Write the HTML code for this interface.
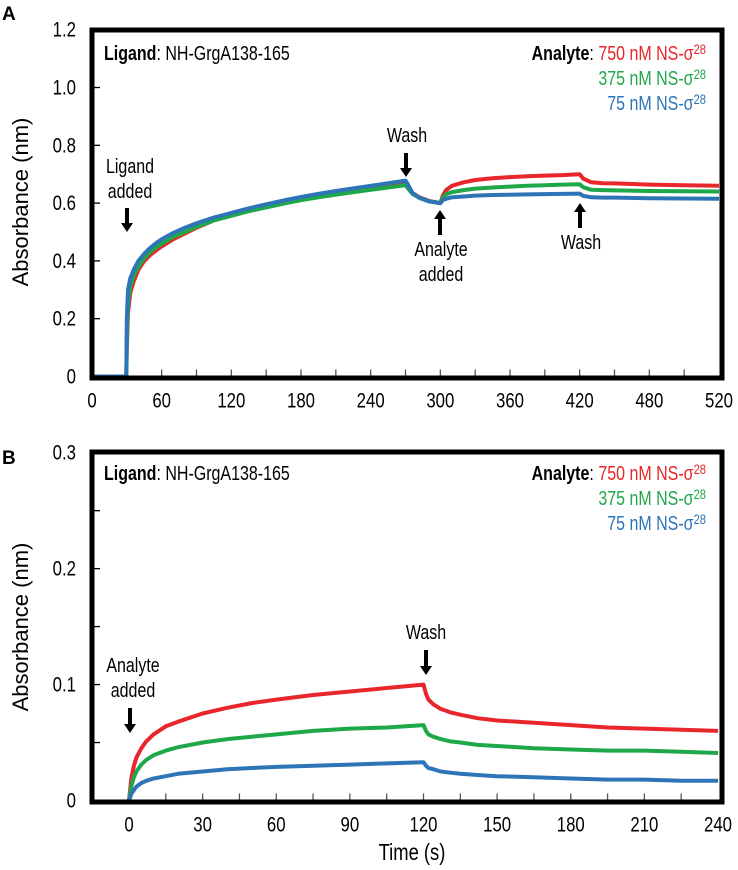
<!DOCTYPE html>
<html><head><meta charset="utf-8">
<style>
body{margin:0;background:#fff;}
svg text{font-family:"Liberation Sans",sans-serif;}
</style></head>
<body>
<svg id="chart" width="738" height="865" xmlns="http://www.w3.org/2000/svg"></svg>
<script>
// Panel A data
const aTickLabels = ["0","60","120","180","240","300","360","420","480","520"];
const aYTicks = [0,0.2,0.4,0.6,0.8,1.0,1.2];
const aTimes = [0,29.5,30,31,33,36,40,45,50,55,60,70,80,90,105,120,135,150,165,180,195,210,225,240,255,270,272,276,282,290,300,302,305,310,320,330,345,360,375,390,405,420,423,430,440,450,480,510,540];
const aRed =   [0,0,0.1,0.22,0.29,0.33,0.37,0.40,0.42,0.436,0.45,0.475,0.495,0.515,0.54,0.56,0.577,0.592,0.605,0.617,0.628,0.638,0.647,0.656,0.664,0.672,0.66,0.635,0.62,0.608,0.6,0.625,0.645,0.66,0.672,0.68,0.686,0.69,0.693,0.695,0.697,0.7,0.685,0.672,0.669,0.668,0.664,0.662,0.66];
const aGreen = [0,0,0.12,0.25,0.31,0.35,0.38,0.41,0.43,0.446,0.46,0.483,0.50,0.518,0.54,0.556,0.572,0.585,0.598,0.61,0.62,0.629,0.638,0.646,0.654,0.662,0.652,0.632,0.618,0.607,0.6,0.618,0.63,0.638,0.645,0.65,0.654,0.657,0.66,0.662,0.664,0.665,0.655,0.646,0.645,0.644,0.642,0.641,0.64];
const aBlue =  [0,0,0.2,0.3,0.34,0.37,0.4,0.425,0.445,0.461,0.475,0.497,0.515,0.53,0.55,0.566,0.582,0.596,0.609,0.621,0.632,0.642,0.651,0.66,0.669,0.678,0.665,0.635,0.618,0.606,0.6,0.61,0.615,0.62,0.623,0.626,0.628,0.629,0.63,0.631,0.632,0.633,0.625,0.62,0.619,0.619,0.617,0.616,0.615];
// Panel B data
const bTickLabels = ["0","30","60","90","120","150","180","210","240"];
const bYTicks = [0,0.1,0.2,0.3];
const bTimes = [0,1,2,3,5,7,10,15,20,30,40,50,60,75,90,105,120,121,122,124,127,131,135,142,150,165,180,195,210,225,240];
const bRed =   [0,0.02,0.03,0.037,0.045,0.051,0.057,0.064,0.068,0.075,0.08,0.084,0.087,0.091,0.094,0.097,0.1,0.092,0.087,0.083,0.079,0.076,0.074,0.071,0.069,0.067,0.065,0.063,0.062,0.061,0.06];
const bGreen = [0,0.013,0.02,0.025,0.031,0.035,0.039,0.043,0.046,0.05,0.053,0.055,0.057,0.06,0.062,0.063,0.065,0.06,0.057,0.055,0.053,0.051,0.05,0.048,0.047,0.045,0.044,0.043,0.043,0.042,0.041];
const bBlue =  [0,0.006,0.009,0.012,0.015,0.017,0.019,0.021,0.023,0.025,0.027,0.028,0.029,0.03,0.031,0.032,0.033,0.03,0.028,0.027,0.025,0.024,0.023,0.022,0.021,0.02,0.019,0.018,0.018,0.017,0.017];

const NS="http://www.w3.org/2000/svg";
const svg=document.getElementById('chart');
const SX=0.8;
function el(tag,attrs,parent){const e=document.createElementNS(NS,tag);for(const k in attrs)e.setAttribute(k,attrs[k]);(parent||svg).appendChild(e);return e;}
function txt(s,x,y,attrs,parent){const t=el('text',Object.assign({x:0,y:0,transform:`translate(${x},${y}) scale(${SX},1)`},attrs),parent);t.textContent=s;return t;}
const RED="#e8262c",GREEN="#1fa84a",BLUE="#2e75b8";

function panel(o){
  const g=el('g',{});
  
  
  const xs=v=>o.x0+(v-o.xmin)/(o.xmax-o.xmin)*(o.x1-o.x0);
  const ys=v=>o.y0-(v-o.ymin)/(o.ymax-o.ymin)*(o.y0-o.y1);
  for(let v=o.xmin+o.minorX; v<o.xmax; v+=o.minorX){
    const l=el('line',{x1:xs(v),x2:xs(v),y1:o.y0,y2:o.y0-7,stroke:'#555','stroke-width':1.3},g);
    
  }
  for(let v=o.ymin+o.minorY; v<o.ymax-1e-9; v+=o.minorY){
    const l=el('line',{x1:o.fl,x2:o.fl+8,y1:ys(v),y2:ys(v),stroke:'#000','stroke-width':1.3},g);
    
  }
  o.xLabels.forEach((s,i)=>{
    const v=o.xmin+i*o.labelStep;
    const t=txt(s,xs(v),o.y0+31,{'font-size':21,'text-anchor':'middle',fill:'#000'},g);
    
  });
  o.yTicks.forEach(v=>{
    const t=txt(v===0?'0':v.toFixed(1),76,ys(v)+7,{'font-size':21,'text-anchor':'end',fill:'#000'},g);
    
  });
  [[o.red,RED,'series-750nm'],[o.green,GREEN,'series-375nm'],[o.blue,BLUE,'series-75nm']].forEach(([arr,c,n])=>{
    const d=arr.map((v,i)=>(i?'L':'M')+xs(o.t[i]).toFixed(1)+','+ys(v).toFixed(1)).join('');
    const p=el('path',{d:d,fill:'none',stroke:c,'stroke-width':4,'stroke-linejoin':'round'},g);
    
  });
  const r=el('rect',{x:o.fl,y:o.ft,width:o.fr-o.fl,height:o.fb-o.ft,fill:'none',stroke:'#000','stroke-width':5},g);
  
  const yt=el('text',{x:0,y:0,'font-size':22,'text-anchor':'middle',transform:`translate(28,${o.ytitleY}) rotate(-90)`},g);
  yt.textContent='Absorbance (nm)';
  
  const lg=txt('',104,o.legY,{'font-size':20},g);
  lg.innerHTML='<tspan font-weight="bold">Ligand</tspan>: NH-GrgA138-165';
  
  const l1=txt('',706,o.legY,{'font-size':20,'text-anchor':'end'},g);
  l1.innerHTML='<tspan font-weight="bold">Analyte</tspan>: <tspan fill="'+RED+'">750 nM NS-σ<tspan font-size="14" dy="-6">28</tspan></tspan>';
  
  const l2=txt('',706,o.legY+25,{'font-size':20,'text-anchor':'end',fill:GREEN},g);
  l2.innerHTML='375 nM NS-σ<tspan font-size="14" dy="-6">28</tspan>';
  
  const l3=txt('',706,o.legY+50,{'font-size':20,'text-anchor':'end',fill:BLUE},g);
  l3.innerHTML='75 nM NS-σ<tspan font-size="14" dy="-6">28</tspan>';
  
  return g;
}
function arrow(x,y1,y2,name){
  const dir=y2>y1?1:-1;
  const g=el('g',{});
  
  el('line',{x1:x,x2:x,y1:y1,y2:y2-dir*7,stroke:'#000','stroke-width':4},g);
  el('polygon',{points:`${x-6},${y2-dir*9} ${x+6},${y2-dir*9} ${x},${y2}`,fill:'#000'},g);
}
function label(lines,x,y,name){
  lines.forEach((s,i)=>{const t=txt(s,x,y+i*25,{'font-size':20,'text-anchor':'middle'});
    });
}

panel({name:'panel-a',x0:92,x1:719,xmin:0,xmax:540,y0:376.5,y1:29.7,ymin:0,ymax:1.2,
  fl:92,fr:722,ft:30,fb:378,minorX:30,minorY:0.2,xLabels:aTickLabels,labelStep:60,yTicks:aYTicks,
  t:aTimes,red:aRed,green:aGreen,blue:aBlue,ytitleY:202,legY:60});
panel({name:'panel-b',x0:129,x1:718,xmin:0,xmax:240,y0:800.5,y1:452.7,ymin:0,ymax:0.3,
  fl:92,fr:722,ft:452,fb:802,minorX:15,minorY:0.05,xLabels:bTickLabels,labelStep:30,yTicks:bYTicks,
  t:bTimes,red:bRed,green:bGreen,blue:bBlue,ytitleY:627,legY:480});

let t=el('text',{x:2,y:20,'font-size':19,'font-weight':'bold'});t.textContent='A';

t=el('text',{x:2,y:464,'font-size':19,'font-weight':'bold'});t.textContent='B';

t=txt('Time (s)',412,860,{'font-size':23,'text-anchor':'middle'});


label(['Wash'],407,142,'wash-label-a1');arrow(406,153,177,'wash-arrow-a1');
label(['Ligand','added'],130,173,'ligand-added-label');arrow(127,208,232,'ligand-arrow');
label(['Analyte','added'],441,256,'analyte-added-label-a');arrow(440,235,210,'analyte-arrow-a');
label(['Wash'],581,249,'wash-label-a2');arrow(580,228,203,'wash-arrow-a2');
label(['Wash'],426,639,'wash-label-b');arrow(426,650,675,'wash-arrow-b');
label(['Analyte','added'],133,672,'analyte-added-label-b');arrow(130,708,733,'analyte-arrow-b');
</script>
</body></html>
